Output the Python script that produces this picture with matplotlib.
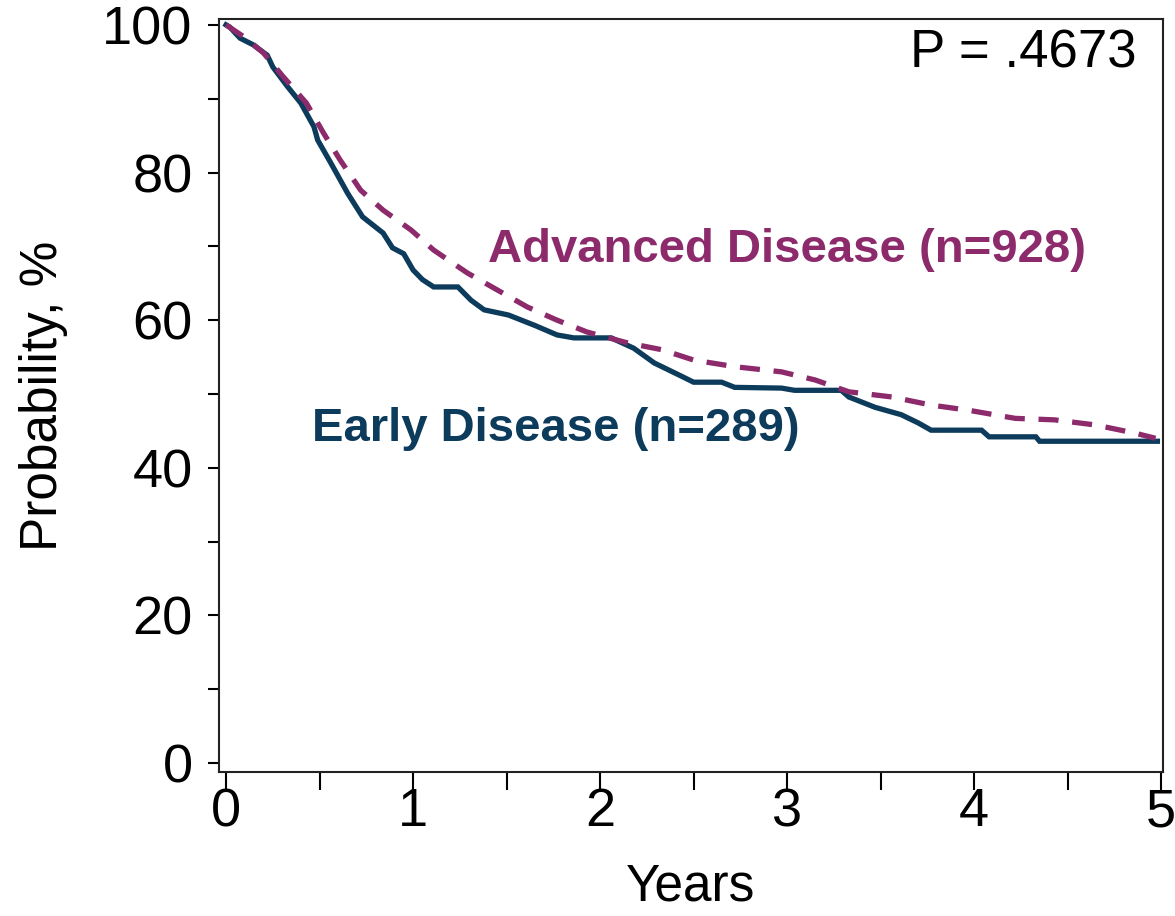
import numpy as np
import matplotlib
matplotlib.use("Agg")
import matplotlib.pyplot as plt

plt.rcParams['font.family'] = ['Liberation Sans', 'DejaVu Sans']

# Early disease (solid)
early_years = [0, 0.02, 0.075, 0.145, 0.22, 0.25, 0.33, 0.40, 0.47, 0.49, 0.56, 0.65, 0.73, 0.84,
               0.89, 0.95, 1.0, 1.05, 1.11, 1.24, 1.31, 1.38, 1.51, 1.65, 1.77, 1.86, 2.06, 2.18,
               2.29, 2.42, 2.50, 2.65, 2.72, 2.97, 3.04, 3.29, 3.33, 3.47, 3.61, 3.70, 3.77, 4.04,
               4.08, 4.33, 4.35, 4.98]
early_prob = [100, 99.7, 98.2, 97.3, 95.9, 94.3, 91.6, 89.4, 86.2, 84.4, 81.3, 77.2, 74.0, 71.8,
              69.8, 69.0, 66.8, 65.5, 64.5, 64.5, 62.7, 61.4, 60.7, 59.3, 58.0, 57.6, 57.6, 56.2,
              54.2, 52.6, 51.6, 51.6, 50.9, 50.8, 50.5, 50.5, 49.6, 48.2, 47.2, 46.1, 45.1, 45.1,
              44.2, 44.2, 43.6, 43.6]

# Advanced disease (dashed)
adv_years = [0, 0.1, 0.20, 0.305, 0.43, 0.52, 0.61, 0.72, 0.84, 0.99, 1.11, 1.29, 1.45, 1.61,
             1.77, 1.93, 2.15, 2.33, 2.50, 2.72, 2.97, 3.15, 3.33, 3.56, 3.77, 3.97, 4.22, 4.43,
             4.65, 4.86, 4.97]
adv_prob = [100, 98.3, 96.2, 93.0, 89.4, 85.4, 81.7, 77.6, 74.9, 72.2, 69.5, 66.4, 64.1, 61.8,
            60.0, 58.4, 56.9, 56.0, 54.6, 53.7, 53.0, 51.9, 50.3, 49.6, 48.5, 47.8, 46.7, 46.5,
            45.8, 44.7, 44.0]

navy = "#0d3b5c"
plum = "#8c2a6c"

fig = plt.figure(figsize=(11.75, 9.16), dpi=100)
ax = fig.add_axes([0.1864, 0.1572, 0.8034, 0.8221])

ax.plot(early_years, early_prob, color=navy, lw=3.8, solid_joinstyle='miter')
ax.plot(adv_years, adv_prob, color=plum, lw=3.8, linestyle=(0, (3.8, 2.6)))

ax.set_xlim(-0.0375, 5.01)
ax.set_ylim(-1.2, 100.8)

ax.set_xticks(np.arange(0, 6, 1))
ax.set_xticks(np.arange(0.5, 5, 1), minor=True)
ax.set_yticks(np.arange(0, 101, 20))
ax.set_yticks(np.arange(10, 100, 20), minor=True)

ax.tick_params(axis='x', which='both', length=13, width=1.5, direction='out', pad=-2, labelsize=39)
ax.tick_params(axis='y', which='both', length=8, width=1.5, direction='out', pad=11, labelsize=39)
for sp in ax.spines.values():
    sp.set_linewidth(1.5)
    sp.set_color('#222222')

ax.set_xlabel("Years", fontsize=37, labelpad=18)
ax.set_ylabel("Probability, %", fontsize=37, labelpad=25)

ax.text(3.0, 67.9, "Advanced Disease (n=928)", color=plum, fontsize=34, fontweight='bold',
        ha='center', va='baseline')
ax.text(1.763, 43.6, "Early Disease (n=289)", color=navy, fontsize=34, fontweight='bold',
        ha='center', va='baseline')
ax.text(4.87, 94.2, "P = .4673", color='black', fontsize=38, ha='right', va='baseline')

fig.savefig("out.png", dpi=100)
